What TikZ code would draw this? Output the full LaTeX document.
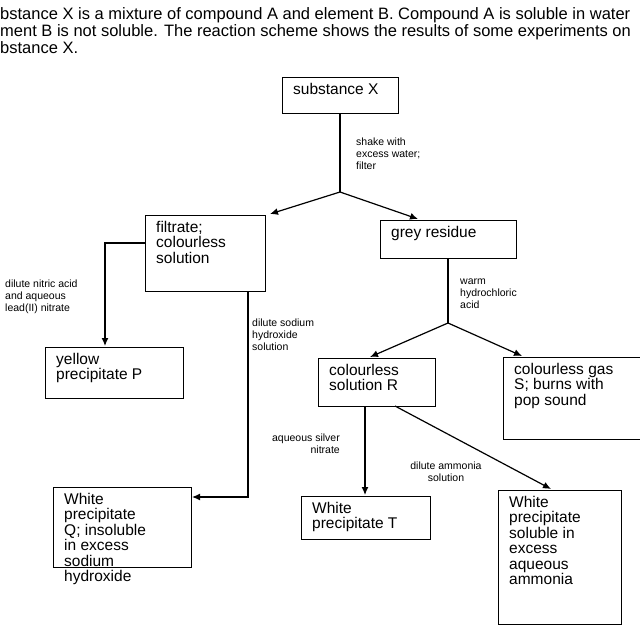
\documentclass[tikz,border=0pt]{standalone}
\usepackage{fontspec}
\setmainfont{Liberation Sans}
\usetikzlibrary{arrows.meta}
\begin{document}
\begin{tikzpicture}[x=1pt,y=-1pt,
  box/.style={draw,line width=1.2pt,anchor=north west,inner sep=0pt},
  lab/.style={anchor=north west,align=left,inner sep=0pt,font=\fontsize{10.5}{12}\selectfont},
  ln/.style={line width=1.2pt},
  arr/.style={line width=1.2pt,-{Latex[length=8pt,width=7pt]}}]
\useasboundingbox (0,0) rectangle (640,640);
\node[anchor=north west,inner sep=0pt,align=left,font=\fontsize{16.5}{17}\selectfont] (intro) at (0,7)
 {bstance X is a mixture of compound A and element B. Compound A is soluble in water\\
 ment B is not soluble. The reaction scheme shows the results of some experiments on\\
 bstance X.};
\newcommand{\bx}[6]{\node[box,minimum width=#4-#2,minimum height=#5-#3] (#1) at (#2,#3) {};
 \node[anchor=north west,align=left,inner sep=0pt,font=\fontsize{15.5}{15.5}\selectfont] at (#2+11,#3+6) {#6};}
\bx{sx}{282}{77}{398}{113}{substance X}
\bx{fil}{145}{215}{265}{291}{filtrate;\\colourless\\solution}
\bx{gr}{380}{220}{516}{258}{grey residue}
\bx{yp}{45}{347}{183}{398}{yellow\\precipitate P}
\bx{wq}{53}{487}{191}{567}{White\\precipitate\\Q; insoluble\\in excess\\sodium\\hydroxide}
\bx{cr}{318}{358}{435}{406}{colourless\\solution R}
\bx{gs}{503}{357}{640}{439}{colourless gas\\S; burns with\\pop sound}
\bx{wt}{301}{496}{430}{539}{White\\precipitate T}
\bx{wa}{498}{490}{621}{624}{White\\precipitate\\soluble in\\excess\\aqueous\\ammonia}
\coordinate (j1) at (340,192);
\coordinate (j2) at (448,323);
\draw[ln] (sx.south -| j1) -- (j1);
\draw[arr] (j1) -- (270,214);
\draw[arr] (j1) -- (418,219);
\draw[arr] (fil.west |- 0,243) -- (105,243) -- (105,346);
\draw[arr] (248,291) -- (248,497) -- (192,497);
\draw[ln] (gr.south -| j2) -- (j2);
\draw[arr] (j2) -- (370,357);
\draw[arr] (j2) -- (522,356);
\draw[arr] (365,406) -- (365,495);
\draw[arr] (395,406) -- (551,489);
\node[lab] at (356,138) {shake with\\excess water;\\filter};
\node[lab] at (5,280) {dilute nitric acid\\and aqueous\\lead(II) nitrate};
\node[lab] at (252,319) {dilute sodium\\hydroxide\\solution};
\node[lab] at (460,279) {warm\\hydrochloric\\acid};
\node[lab,align=right,anchor=north east] at (340,434) {aqueous silver\\nitrate};
\node[lab,align=center,anchor=north] at (446,462) {dilute ammonia\\solution};
\end{tikzpicture}
\end{document}
